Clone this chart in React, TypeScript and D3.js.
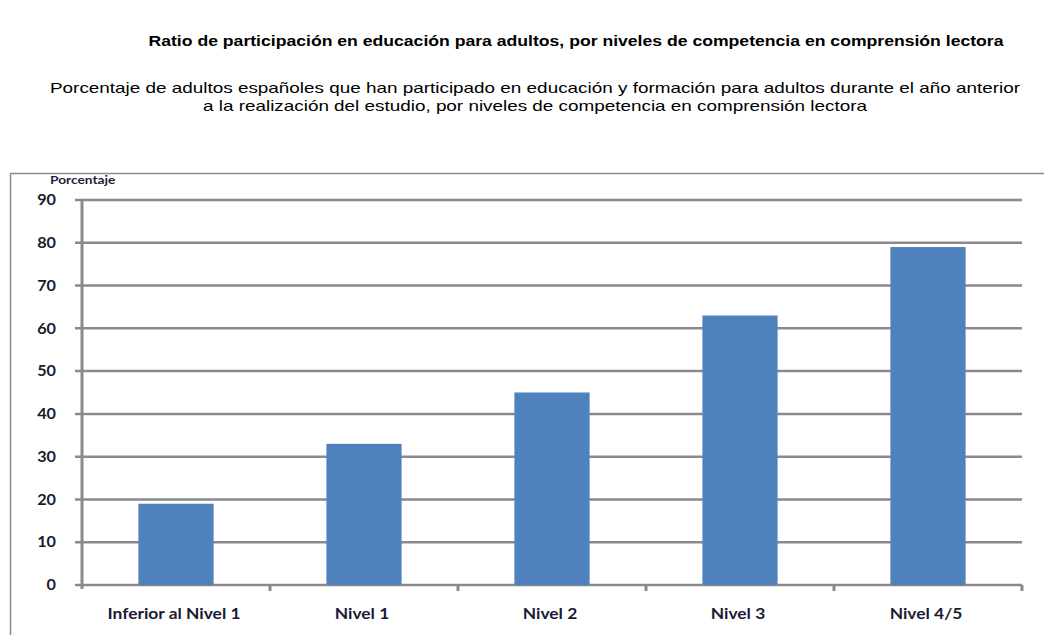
import React from 'react';
import * as d3 from 'd3';

// chart data
const categories = ['Inferior al Nivel 1', 'Nivel 1', 'Nivel 2', 'Nivel 3', 'Nivel 4/5'];
const values = [19, 33, 45, 63, 79];
const yTicks = [0, 10, 20, 30, 40, 50, 60, 70, 80, 90];

const title = 'Ratio de participación en educación para adultos, por niveles de competencia en comprensión  lectora';
const subtitleLines = [
  'Porcentaje de adultos españoles que han participado en educación y formación para adultos durante el año anterior',
  'a la realización del estudio, por niveles de competencia en comprensión lectora',
];

const W = 1044;
const H = 635;
const plot = { left: 82, right: 1022, top: 200, bottom: 585 };

// the source picture is stretched sideways, so text gets a horizontal scale
const Stretch = ({ x, y, sx, children }) => (
  <g transform={`translate(${x},${y}) scale(${sx},1)`}>{children}</g>
);

const App = () => {
  const x = d3.scaleBand<string>()
    .domain(categories)
    .range([plot.left, plot.right])
    .paddingInner(0.6)
    .paddingOuter(0.3);

  const xStep = d3.scaleBand<string>()
    .domain(categories)
    .range([plot.left, plot.right]);

  const y = d3.scaleLinear().domain([0, 90]).range([plot.bottom, plot.top]);

  const gridColor = '#8a8a8a';
  const labelFont = 'Lato, "Open Sans", sans-serif';
  const titleFont = '"Liberation Sans", Arial, sans-serif';

  return (
    <svg width={W} height={H} style={{ position: 'absolute', left: 0, top: 0, background: '#fff' }}>
      <text x={576} y={46} textAnchor="middle" fontFamily={titleFont} fontWeight="bold" fontSize={15}
        textLength={855} lengthAdjust="spacingAndGlyphs" fill="#000">{title}</text>
      {subtitleLines.map((s, i) => (
        <text key={i} x={535} y={93 + i * 18} textAnchor="middle" fontFamily={titleFont} fontSize={15}
          textLength={i === 0 ? 970 : 664} lengthAdjust="spacingAndGlyphs" fill="#000">{s}</text>
      ))}

      {/* outer chart frame, runs off the picture on the right and bottom */}
      <rect x={10.5} y={173.5} width={1060} height={500} fill="none" stroke="#8c8c8c" strokeWidth={1.5} />

      <Stretch x={50} y={184} sx={1.25}>
        <text fontFamily={labelFont} fontWeight="bold" fontSize={11} fill="#1f1f3a">Porcentaje</text>
      </Stretch>

      {/* gridlines + y ticks */}
      {yTicks.map(t => (
        <g key={t}>
          <line x1={plot.left - 7} x2={plot.right} y1={y(t)} y2={y(t)} stroke={gridColor} strokeWidth={2.5} />
          <Stretch x={56} y={y(t)} sx={1.12}>
            <text dy="0.36em" textAnchor="end" fontFamily={labelFont} fontWeight="bold" fontSize={14.5}
              fill="#1a1a33">{t}</text>
          </Stretch>
        </g>
      ))}

      {/* y axis */}
      <line x1={plot.left} x2={plot.left} y1={plot.top - 1} y2={plot.bottom + 4} stroke={gridColor} strokeWidth={3} />

      {/* x tick marks at category boundaries */}
      {categories.map(c => {
        const bx = (xStep(c) as number) + xStep.bandwidth();
        return <line key={c} x1={bx} x2={bx} y1={plot.bottom} y2={plot.bottom + 6} stroke={gridColor} strokeWidth={3} />;
      })}

      {/* bars */}
      {categories.map((c, i) => (
        <rect key={c} x={x(c)} y={y(values[i])} width={x.bandwidth()} height={y(0) - y(values[i])}
          fill="#4f81bd" />
      ))}

      {/* x labels */}
      {categories.map(c => (
        <Stretch key={c} x={(xStep(c) as number) + xStep.bandwidth() / 2 - 2} y={619} sx={1.2}>
          <text textAnchor="middle" fontFamily={labelFont} fontWeight="bold" fontSize={14.5}
            fill="#1a1a33">{c}</text>
        </Stretch>
      ))}
    </svg>
  );
};

export default App;
